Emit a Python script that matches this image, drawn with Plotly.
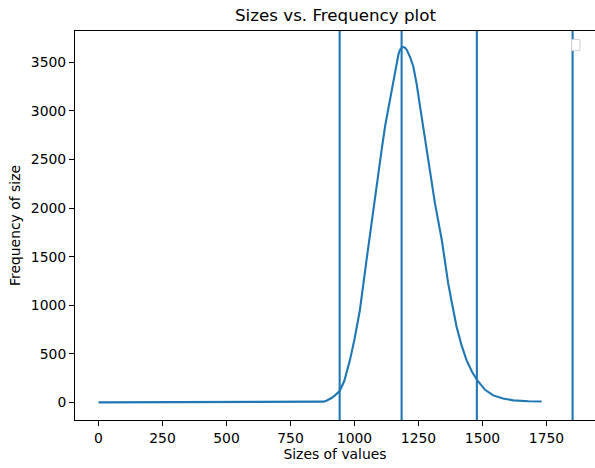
import plotly.graph_objects as go

# Curve data
sizes = [0, 880, 892, 910, 925, 942, 960, 982, 1000, 1021, 1047, 1073, 1090, 1106, 1120,
         1139, 1152, 1165, 1172, 1178, 1185, 1191, 1198, 1205, 1212, 1218, 1230, 1243,
         1256, 1270, 1282, 1298, 1314, 1328, 1341, 1354, 1366, 1383, 1399, 1418, 1438,
         1460, 1480, 1510, 1542, 1580, 1620, 1680, 1731]
frequency = [0, 8, 20, 45, 75, 117, 220, 433, 650, 949, 1465, 1981, 2300, 2600, 2850,
             3117, 3340, 3510, 3585, 3630, 3652, 3658, 3650, 3625, 3590, 3550, 3455, 3275,
             3047, 2820, 2600, 2330, 2054, 1860, 1672, 1440, 1225, 990, 777, 590, 433,
             310, 227, 130, 72, 40, 21, 12, 10]

# Vertical marker lines
vlines = [942, 1184, 1478, 1852]

x_ticks = [0, 250, 500, 750, 1000, 1250, 1500, 1750]
y_ticks = [0, 500, 1000, 1500, 2000, 2500, 3000, 3500]

C0 = "#1f77b4"
FONT = "DejaVu Sans"

fig = go.Figure()
fig.add_trace(go.Scatter(x=sizes, y=frequency, mode="lines",
                         line=dict(color=C0, width=2.1), showlegend=False,
                         hoverinfo="skip"))

for v in vlines:
    fig.add_shape(type="line", xref="x", yref="paper", x0=v, x1=v, y0=0, y1=1,
                  line=dict(color=C0, width=2.1), layer="above")

# empty legend frame (as in the original)
fig.add_shape(type="rect", xref="paper", yref="paper",
              x0=0.955, x1=0.971, y0=0.950, y1=0.978,
              line=dict(color="#d0d0d0", width=1), fillcolor="white", layer="above")

fig.update_layout(
    width=595, height=468,
    margin=dict(l=75, r=0, t=31, b=48),
    paper_bgcolor="white", plot_bgcolor="white",
    font=dict(family=FONT, size=13.9, color="black"),
    title=dict(text="Sizes vs. Frequency plot", x=(335.5 / 595), xanchor="center",
               y=1 - 15 / 468, yanchor="middle",
               font=dict(family=FONT, size=16.7, color="black")),
    showlegend=False,
)
fig.update_xaxes(
    range=[-91.8, 1939.5], tickvals=x_ticks, ticktext=[str(t) for t in x_ticks],
    showgrid=False, zeroline=False, showline=True, linecolor="black", linewidth=1,
    mirror=True, ticks="outside", ticklen=5, tickcolor="black", tickwidth=1,
    tickfont=dict(family=FONT, size=13.9, color="black"),
    title=dict(text="Sizes of values", font=dict(family=FONT, size=13.9, color="black"),
               standoff=4),
)
fig.update_yaxes(
    range=[-181, 3823], tickvals=y_ticks, ticktext=[str(t) for t in y_ticks],
    showgrid=False, zeroline=False, showline=True, linecolor="black", linewidth=1,
    mirror=False, ticks="outside", ticklen=5, tickcolor="black", tickwidth=1,
    tickfont=dict(family=FONT, size=13.9, color="black"),
    title=dict(text="Frequency of size", font=dict(family=FONT, size=13.9, color="black"),
               standoff=6),
)

fig.write_html("out.html")
